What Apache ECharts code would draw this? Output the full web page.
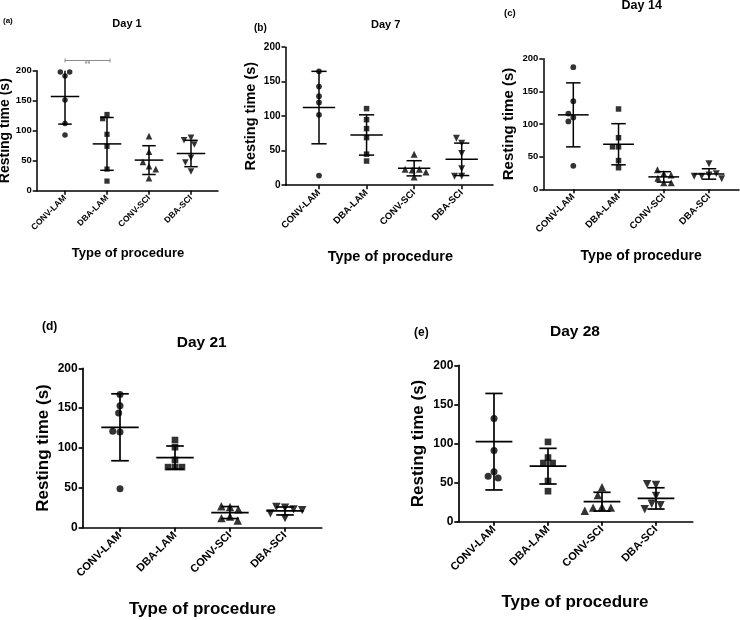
<!DOCTYPE html>
<html><head><meta charset="utf-8">
<script src="https://cdn.jsdelivr.net/npm/echarts@6/dist/echarts.min.js"></script>
<style>html,body{margin:0;padding:0;background:#fff}#c{width:740px;height:620px}</style>
</head><body><div id="c"></div>
<script>
// ---------- data ----------
const categories = ['CONV-LAM', 'DBA-LAM', 'CONV-SCI', 'DBA-SCI'];
const panelLabels = ['(a)', '(b)', '(c)', '(d)', '(e)'];
const dayTitles = ['Day 1', 'Day 7', 'Day 14', 'Day 21', 'Day 28'];
const yTicks = [0, 50, 100, 150, 200];
const yAxisTitle = 'Resting time (s)';
const xAxisTitle = 'Type of procedure';

// individual resting times, one list per procedure (CONV-LAM, DBA-LAM, CONV-SCI, DBA-SCI)
const day1Values  = [[191, 198, 198, 151, 112, 93], [127, 120, 94, 74, 36, 16], [91, 65, 21, 41, 48, 36], [88, 84, 77, 55, 47, 32]];
const day7Values  = [[165, 143, 129, 120, 102, 14], [111, 95, 82, 69, 45, 35], [45, 12, 22, 23, 23, 19], [46, 24, 13, 13, 61, 68]];
const day14Values = [[187, 135, 36, 110, 116, 104], [123, 79, 44, 33, 65, 65], [24, 17, 30, 22, 10, 10], [39, 22, 20, 24, 16, 20]];
const day21Values = [[167, 153, 144, 49, 120, 121], [110, 101, 85, 76, 76, 76], [26, 27, 23, 14, 12, 9], [25, 26, 23, 18, 22, 12]];
const day28Values = [[132, 91, 64, 58, 56, 212], [102, 52, 39, 82, 75, 75], [44, 34, 19, 18, 18, 14], [33, 23, 47, 48, 21, 16]];

// mean and SD drawn as error bars
const day1Mean  = [157, 78, 51, 62];     const day1SD  = [46, 44, 24, 22];
const day7Mean  = [112.5, 72.8, 24.5, 37.5]; const day7SD = [52.5, 29.2, 11, 23.5];
const day14Mean = [114, 69, 19, 23.5];   const day14SD = [49, 31.5, 8, 8];
const day21Mean = [126, 88, 19, 21];     const day21SD = [42, 14.5, 7.5, 5];
const day28Mean = [102.3, 71, 25.6, 29.8]; const day28SD = [61.7, 22.8, 12, 13.6];

// significance annotation on Day 1 (category index pair, label, height)
const day1Sig = [[0, 1, '**', 217]];

const panelValues = [day1Values, day7Values, day14Values, day21Values, day28Values];
const panelMeans = [day1Mean, day7Mean, day14Mean, day21Mean, day28Mean];
const panelSDs = [day1SD, day7SD, day14SD, day21SD, day28SD];

// ---------- layout / style ----------
const FONT = '"Liberation Sans", Arial, sans-serif';
const layout = [
  {axL: 36.7, axR: 218, top: 70.7, bot: 190.7, c0: 65, c3: 191, sym: 5.5, lw: 1.5, tick: 9.5, xlab: 8.5, ytitle: 14, xtitle: 13, ygap: 22, xgap: 56, title: 11, tx: 127, ty: 24, lab: 8, lx: 3, ly: 21, m: 0.8},
  {axL: 285.5, axR: 493, top: 47.2, bot: 185.2, c0: 319, c3: 461.7, sym: 5.8, lw: 1.5, tick: 10, xlab: 9.5, ytitle: 14.5, xtitle: 14.5, ygap: 27, xgap: 64, title: 11, tx: 385.7, ty: 25, lab: 10, lx: 254, ly: 28, m: 0.2},
  {axL: 543.3, axR: 739, top: 58.7, bot: 189.3, c0: 573.3, c3: 709, sym: 5.8, lw: 1.5, tick: 9.5, xlab: 9.5, ytitle: 15, xtitle: 14, ygap: 27, xgap: 60, title: 12.5, tx: 641.7, ty: 6, lab: 9.5, lx: 504, ly: 13, m: 0.5},
  {axL: 82.7, axR: 321.7, top: 368.3, bot: 527.7, c0: 120, c3: 285, sym: 7, lw: 1.7, tick: 12, xlab: 11, ytitle: 17, xtitle: 17, ygap: 31, xgap: 73, title: 15.5, tx: 201.7, ty: 342.7, lab: 12, lx: 42, ly: 327, m: 0.3},
  {axL: 458.3, axR: 692.7, top: 365.3, bot: 521.7, c0: 494, c3: 656, sym: 7, lw: 1.7, tick: 12, xlab: 11, ytitle: 17, xtitle: 17, ygap: 31, xgap: 72, title: 15.5, tx: 575, ty: 331.7, lab: 12, lx: 414, ly: 333, m: 0.5}
];
const symbols = ['circle', 'rect', 'triangle', 'triangle'];
const symbolRot = [0, 0, 0, 180];
const symbolScale = [1, 0.95, 1.2, 1.2];

const yMin = yTicks[0], yMax = yTicks[yTicks.length - 1], yStep = yTicks[1] - yTicks[0];

const grid = [], xAxis = [], yAxis = [], series = [], graphic = [];

layout.forEach((L, p) => {
  const band = (L.c3 - L.c0) / 3;
  const h = L.bot - L.top;
  const fi = 2 * p, di = 2 * p + 1;
  grid.push({left: L.axL, top: L.top, width: L.axR - L.axL, height: h, containLabel: false, outerBoundsMode: 'none'});
  grid.push({left: L.c0 - band / 2, top: L.top, width: band * 4, height: h, containLabel: false, outerBoundsMode: 'none'});

  // frame axes
  xAxis.push({gridIndex: fi, type: 'value', min: 0, max: 1,
    axisLine: {show: true, onZero: false, lineStyle: {color: '#000', width: L.lw}},
    axisTick: {show: false}, axisLabel: {show: false}, splitLine: {show: false}});
  yAxis.push({gridIndex: fi, type: 'value', min: yMin, max: yMax, interval: yStep,
    axisLine: {show: true, lineStyle: {color: '#000', width: L.lw}},
    axisTick: {show: true, length: 4, lineStyle: {color: '#000', width: L.lw}},
    axisLabel: {color: '#000', fontFamily: FONT, fontWeight: 'bold', fontSize: L.tick, margin: 5},
    splitLine: {show: false},
    name: yAxisTitle, nameLocation: 'middle', nameGap: L.ygap,
    nameTextStyle: {color: '#000', fontFamily: FONT, fontWeight: 'bold', fontSize: L.ytitle}});

  // data axes
  xAxis.push({gridIndex: di, type: 'category', data: categories, boundaryGap: true,
    jitter: band * 0.8, jitterOverlap: false, jitterMargin: L.m,
    axisLine: {show: false},
    axisTick: {show: true, alignWithLabel: true, length: 4, lineStyle: {color: '#000', width: L.lw}},
    axisLabel: {color: '#000', fontFamily: FONT, fontWeight: 'bold', fontSize: L.xlab, rotate: 45, margin: 6, interval: 0},
    splitLine: {show: false},
    name: xAxisTitle, nameLocation: 'middle', nameGap: L.xgap,
    nameTextStyle: {color: '#000', fontFamily: FONT, fontWeight: 'bold', fontSize: L.xtitle}});
  yAxis.push({gridIndex: di, type: 'value', min: yMin, max: yMax, show: false});

  const vals = panelValues[p];
  vals.forEach((list, g) => {
    series.push({type: 'scatter', xAxisIndex: di, yAxisIndex: di,
      symbol: symbols[g], symbolRotate: symbolRot[g], symbolSize: L.sym * symbolScale[g],
      itemStyle: {color: '#000'}, clip: true, silent: true, z: 3,
      data: list.map(v => [g, v])});
  });

  const lw = L.lw;
  series.push({type: 'custom', xAxisIndex: di, yAxisIndex: di, silent: true, z: 2,
    data: panelMeans[p].map((m, g) => [g, m, panelSDs[p][g]]),
    renderItem: (params, api) => {
      const c = api.value(0), m = api.value(1), s = api.value(2);
      const bw = api.size([1, 0])[0];
      const hiV = Math.min(m + s, yMax), loV = Math.max(m - s, yMin);
      const pm = api.coord([c, m]), ph = api.coord([c, hiV]), pl = api.coord([c, loV]);
      const mw = bw * 0.34, cw = bw * 0.16;
      const st = {stroke: '#000', lineWidth: lw, fill: null};
      const ch = [
        {type: 'line', shape: {x1: pm[0] - mw, y1: pm[1], x2: pm[0] + mw, y2: pm[1]}, style: st},
        {type: 'line', shape: {x1: ph[0], y1: ph[1], x2: pl[0], y2: pl[1]}, style: st},
        {type: 'line', shape: {x1: pl[0] - cw, y1: pl[1], x2: pl[0] + cw, y2: pl[1]}, style: st}
      ];
      if (m + s <= yMax) ch.push({type: 'line', shape: {x1: ph[0] - cw, y1: ph[1], x2: ph[0] + cw, y2: ph[1]}, style: st});
      return {type: 'group', children: ch};
    }});

  if (p === 0) {
    series.push({type: 'custom', xAxisIndex: di, yAxisIndex: di, silent: true, clip: false, z: 2,
      data: day1Sig.map(s => [s[0], s[1], s[3]]),
      renderItem: (params, api) => {
        const a = api.coord([api.value(0), api.value(2)]);
        const b = api.coord([api.value(1), api.value(2)]);
        const st = {stroke: '#8c8c8c', lineWidth: 1, fill: null};
        return {type: 'group', children: [
          {type: 'line', shape: {x1: a[0], y1: a[1], x2: b[0] + 3, y2: b[1]}, style: st},
          {type: 'line', shape: {x1: a[0], y1: a[1] - 2, x2: a[0], y2: a[1] + 2}, style: st},
          {type: 'line', shape: {x1: b[0] + 3, y1: b[1] - 2, x2: b[0] + 3, y2: b[1] + 2}, style: st},
          {type: 'text', style: {text: day1Sig[params.dataIndex][2], x: (a[0] + b[0] + 3) / 2, y: a[1] + 0.5,
            fill: '#8c8c8c', font: 'bold 7px ' + FONT, align: 'center', verticalAlign: 'top',
            textAlign: 'center', textVerticalAlign: 'top'}}
        ]};
      }});
  }

  graphic.push({type: 'text', x: L.tx, y: L.ty, silent: true,
    style: {text: dayTitles[p], fill: '#000', font: 'bold ' + L.title + 'px ' + FONT,
      align: 'center', verticalAlign: 'middle', textAlign: 'center', textVerticalAlign: 'middle'}});
  graphic.push({type: 'text', x: L.lx, y: L.ly, silent: true,
    style: {text: panelLabels[p], fill: '#000', font: 'bold ' + L.lab + 'px ' + FONT,
      align: 'left', verticalAlign: 'middle', textAlign: 'left', textVerticalAlign: 'middle'}});
});

const chart = echarts.init(document.getElementById('c'), null, {renderer: 'canvas'});
chart.setOption({backgroundColor: '#fff', animation: false, grid, xAxis, yAxis, series, graphic});
</script>
</body></html>
